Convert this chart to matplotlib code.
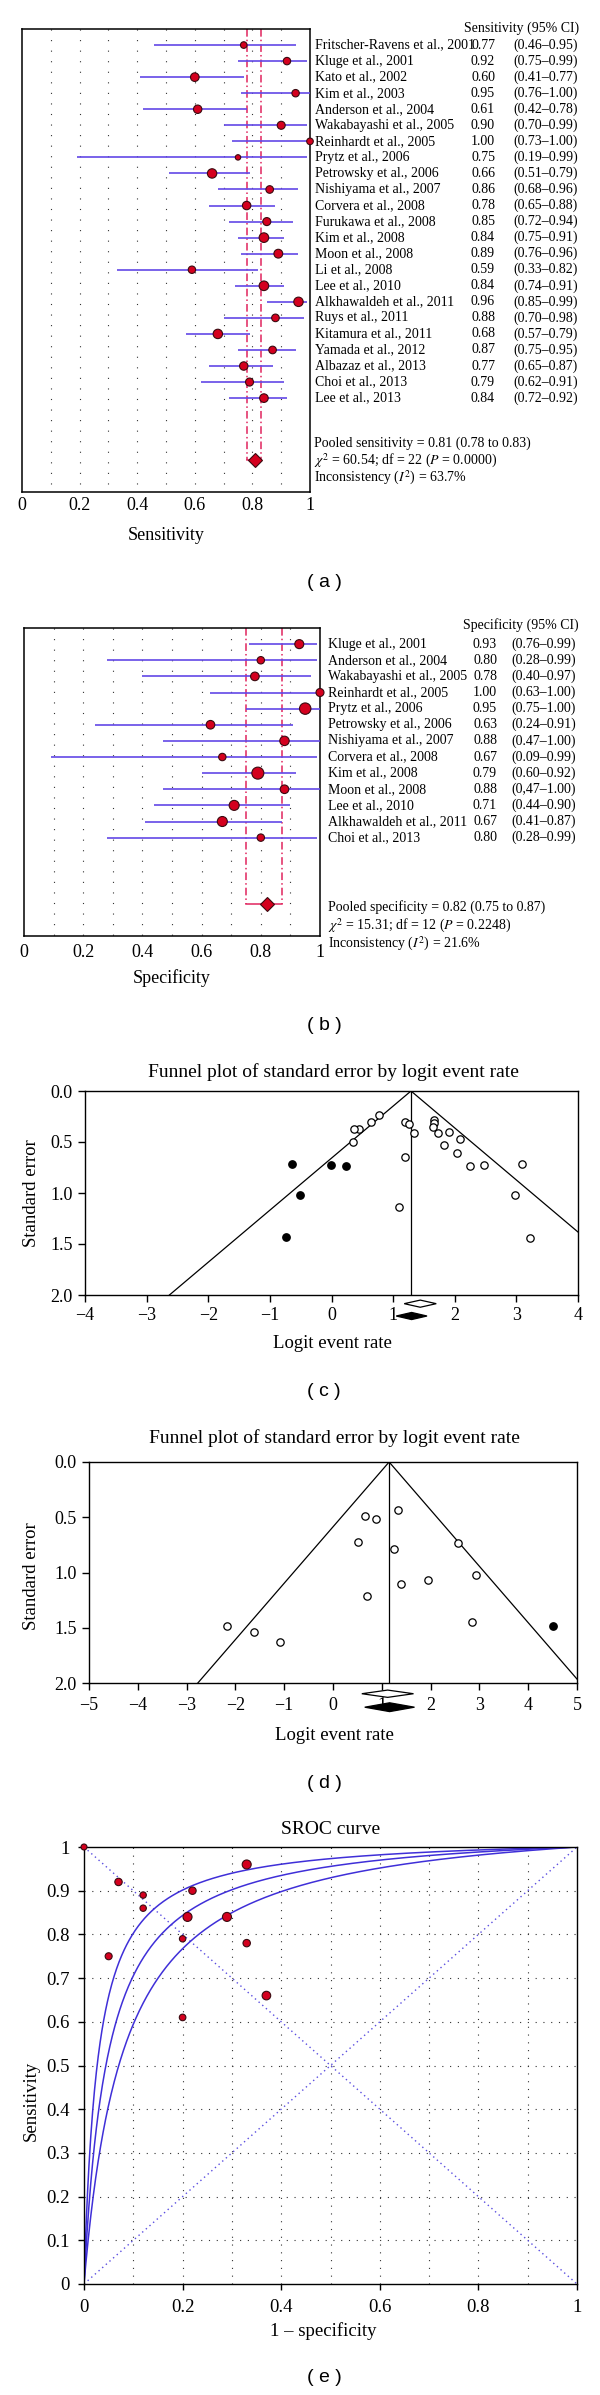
import numpy as np
import matplotlib.pyplot as plt
from matplotlib.patches import Polygon
from matplotlib.transforms import blended_transform_factory

plt.rcParams['font.family'] = ['Liberation Serif', 'DejaVu Serif']
plt.rcParams['mathtext.fontset'] = 'stix'

# ---------------- data: (a) sensitivity forest plot ----------------
sens_study = ["Fritscher-Ravens et al., 2001", "Kluge et al., 2001", "Kato et al., 2002",
              "Kim et al., 2003", "Anderson et al., 2004", "Wakabayashi et al., 2005",
              "Reinhardt et al., 2005", "Prytz et al., 2006", "Petrowsky et al., 2006",
              "Nishiyama et al., 2007", "Corvera et al., 2008", "Furukawa et al., 2008",
              "Kim et al., 2008", "Moon et al., 2008", "Li et al., 2008", "Lee et al., 2010",
              "Alkhawaldeh et al., 2011", "Ruys et al., 2011", "Kitamura et al., 2011",
              "Yamada et al., 2012", "Albazaz et al., 2013", "Choi et al., 2013", "Lee et al., 2013"]
sens_est = [0.77, 0.92, 0.60, 0.95, 0.61, 0.90, 1.00, 0.75, 0.66, 0.86, 0.78, 0.85,
            0.84, 0.89, 0.59, 0.84, 0.96, 0.88, 0.68, 0.87, 0.77, 0.79, 0.84]
sens_lo = [0.46, 0.75, 0.41, 0.76, 0.42, 0.70, 0.73, 0.19, 0.51, 0.68, 0.65, 0.72,
           0.75, 0.76, 0.33, 0.74, 0.85, 0.70, 0.57, 0.75, 0.65, 0.62, 0.72]
sens_hi = [0.95, 0.99, 0.77, 1.00, 0.78, 0.99, 1.00, 0.99, 0.79, 0.96, 0.88, 0.94,
           0.91, 0.96, 0.82, 0.91, 0.99, 0.98, 0.79, 0.95, 0.87, 0.91, 0.92]
# relative study weight, drawn as marker radius
sens_wt = [3.3, 3.7, 4.3, 3.7, 4.2, 4.0, 3.3, 2.7, 4.7, 3.8, 4.2, 4.0,
           4.8, 4.4, 3.7, 4.8, 4.7, 3.8, 4.7, 3.8, 4.2, 4.0, 4.3]
sens_pool = [0.81, 0.78, 0.83]
sens_stats = ["Pooled sensitivity = 0.81 (0.78 to 0.83)",
              r"$\chi^2$ = 60.54; df = 22 ($P$ = 0.0000)",
              r"Inconsistency ($I^2$) = 63.7%"]

# ---------------- data: (b) specificity forest plot ----------------
spec_study = ["Kluge et al., 2001", "Anderson et al., 2004", "Wakabayashi et al., 2005",
              "Reinhardt et al., 2005", "Prytz et al., 2006", "Petrowsky et al., 2006",
              "Nishiyama et al., 2007", "Corvera et al., 2008", "Kim et al., 2008",
              "Moon et al., 2008", "Lee et al., 2010", "Alkhawaldeh et al., 2011", "Choi et al., 2013"]
spec_est = [0.93, 0.80, 0.78, 1.00, 0.95, 0.63, 0.88, 0.67, 0.79, 0.88, 0.71, 0.67, 0.80]
spec_lo = [0.76, 0.28, 0.40, 0.63, 0.75, 0.24, 0.47, 0.09, 0.60, 0.47, 0.44, 0.41, 0.28]
spec_hi = [0.99, 0.99, 0.97, 1.00, 1.00, 0.91, 1.00, 0.99, 0.92, 1.00, 0.90, 0.87, 0.99]
spec_ci_label = ["(0.76–0.99)", "(0.28–0.99)", "(0.40–0.97)", "(0.63–1.00)", "(0.75–1.00)",
                 "(0.24–0.91)", "(0.47–1.00)", "(0.09–0.99)", "(0.60–0.92)", "(0,47–1.00)",
                 "(0.44–0.90)", "(0.41–0.87)", "(0.28–0.99)"]
spec_wt = [4.5, 3.7, 4.3, 4.0, 5.7, 4.3, 4.7, 3.7, 6.0, 4.3, 5.0, 5.0, 3.7]
spec_pool = [0.82, 0.75, 0.87]
spec_stats = ["Pooled specificity = 0.82 (0.75 to 0.87)",
              r"$\chi^2$ = 15.31; df = 12 ($P$ = 0.2248)",
              r"Inconsistency ($I^2$) = 21.6%"]

# ---------------- data: (c) funnel plot, sensitivity ----------------
c_open_x = [0.77, 0.64, 0.45, 0.37, 0.35, 1.20, 1.25, 1.34, 1.19, 1.10, 1.66, 1.66,
            1.64, 1.73, 1.90, 2.09, 1.83, 2.03, 2.25, 2.48, 3.09, 2.98, 3.22]
c_open_se = [0.24, 0.30, 0.37, 0.37, 0.50, 0.30, 0.32, 0.41, 0.65, 1.14, 0.28, 0.31,
             0.35, 0.41, 0.40, 0.47, 0.53, 0.61, 0.74, 0.73, 0.72, 1.02, 1.44]
c_fill_x = [-0.64, -0.01, 0.24, -0.51, -0.74]
c_fill_se = [0.72, 0.73, 0.74, 1.02, 1.43]
c_center = 1.29
c_diamond_x = [1.44, 1.30]     # observed (open), adjusted (filled)
c_diamond_hw = [0.26, 0.25]

# ---------------- data: (d) funnel plot, specificity ----------------
d_open_x = [1.33, 0.66, 0.88, 0.51, 1.25, 2.56, 2.93, 1.39, 1.95, 0.69, -2.17, -1.61, -1.09, 2.85]
d_open_se = [0.43, 0.49, 0.52, 0.72, 0.79, 0.73, 1.02, 1.10, 1.07, 1.21, 1.48, 1.54, 1.63, 1.45]
d_fill_x = [4.51]
d_fill_se = [1.48]
d_center = 1.15
d_diamond_x = [1.12, 1.16]
d_diamond_hw = [0.53, 0.51]

# ---------------- data: (e) SROC ----------------
sroc_fpr = [0.07, 0.20, 0.22, 0.00, 0.05, 0.37, 0.12, 0.33, 0.21, 0.12, 0.29, 0.33, 0.20]
sroc_tpr = [0.92, 0.61, 0.90, 1.00, 0.75, 0.66, 0.86, 0.78, 0.84, 0.89, 0.84, 0.96, 0.79]
sroc_wt = [3.7, 3.3, 3.7, 3.0, 3.5, 4.3, 3.2, 3.7, 4.5, 3.2, 4.5, 4.5, 3.2]
sroc_shift = [3.60, 3.07, 2.58]   # upper CI, SROC, lower CI (logit DOR)

RED = '#d4001e'
EDGE = '#3a0a10'
BLUE = '#6248e6'
CRIMSON = '#e0245e'
TXT = 10

W, H = 600, 2395
fig = plt.figure(figsize=(W / 100, H / 100), dpi=100)


def box(l, t, r, b):
    return fig.add_axes([l / W, 1 - b / H, (r - l) / W, (b - t) / H])


def ftext(x, y, s, **kw):
    fig.text(x / W, 1 - y / H, s, **kw)


def size(r):
    # marker radius in px -> scatter area in pt^2
    return (2 * np.asarray(r) * 0.72) ** 2


def forest(ax, names, est, lo, hi, wt, pool, diamond_row, bottom, pad):
    rows = np.arange(1, len(est) + 1)
    ax.vlines(np.linspace(0.1, 0.9, 9), 0, bottom, colors='#333333', lw=0.8,
              linestyles=[(0, (1, 8.5))], zorder=1)
    ax.vlines([pool[1], pool[2]], 0, diamond_row, colors=CRIMSON, lw=1.1,
              linestyles=[(0, (5, 2, 1, 2))], zorder=2)
    ax.plot([pool[1], pool[2]], [diamond_row, diamond_row], color=CRIMSON, lw=1.1, zorder=2)
    ax.hlines(rows, lo, hi, colors=BLUE, lw=1.2, zorder=3, clip_on=False)
    ax.scatter(est, rows, s=size(wt), c=RED, edgecolors=EDGE, linewidths=0.8,
               zorder=4, clip_on=False)
    ax.plot(pool[0], diamond_row, marker='D', ms=7.5, mfc=RED, mec=EDGE, mew=0.8, zorder=4)
    ax.set_xlim(0, 1)
    ax.set_ylim(bottom, 0)
    ax.set_yticks([])
    ax.set_xticks([0, 0.2, 0.4, 0.6, 0.8, 1])
    ax.set_xticklabels(['0', '0.2', '0.4', '0.6', '0.8', '1'])
    ax.tick_params(axis='x', length=0, pad=pad, labelsize=13)
    for s in ax.spines.values():
        s.set_linewidth(1.1)
    return rows


# ---- (a) ----
ax_a = box(22, 29, 310, 492)
rows = forest(ax_a, sens_study, sens_est, sens_lo, sens_hi, sens_wt, sens_pool, 26.85, 28.85, 3.5)
tr = blended_transform_factory(fig.transFigure, ax_a.transData)
for r, name, e, lo, hi in zip(rows, sens_study, sens_est, sens_lo, sens_hi):
    fig.text(315 / W, r, name, transform=tr, fontsize=TXT, va='center', ha='left')
    fig.text(495 / W, r, f"{e:.2f}", transform=tr, fontsize=TXT, va='center', ha='right')
    fig.text(513 / W, r, f"({lo:.2f}–{hi:.2f})", transform=tr, fontsize=TXT, va='center', ha='left')
ftext(579, 28, "Sensitivity (95% CI)", fontsize=TXT, ha='right', va='center')
for i, s in enumerate(sens_stats):
    ftext(314, 443 + 17.5 * i, s, fontsize=TXT, ha='left', va='center')
ftext(166, 535, "Sensitivity", fontsize=13, ha='center', va='center')
ftext(324, 582, "( a )", fontsize=14, ha='center', va='center', family='Liberation Sans')

# ---- (b) ----
ax_b = box(24, 628, 320, 936)
rows = forest(ax_b, spec_study, spec_est, spec_lo, spec_hi, spec_wt, spec_pool, 17.1, 19.1, 5.5)
tr = blended_transform_factory(fig.transFigure, ax_b.transData)
for r, name, e, ci in zip(rows, spec_study, spec_est, spec_ci_label):
    fig.text(328 / W, r, name, transform=tr, fontsize=TXT, va='center', ha='left')
    fig.text(497 / W, r, f"{e:.2f}", transform=tr, fontsize=TXT, va='center', ha='right')
    fig.text(511 / W, r, ci, transform=tr, fontsize=TXT, va='center', ha='left')
ftext(579, 625, "Specificity (95% CI)", fontsize=TXT, ha='right', va='center')
for i, s in enumerate(spec_stats):
    ftext(328, 907 + 18.5 * i, s, fontsize=TXT, ha='left', va='center')
ftext(172, 978, "Specificity", fontsize=13, ha='center', va='center')
ftext(324, 1025, "( b )", fontsize=14, ha='center', va='center', family='Liberation Sans')


def funnel(ax, ox, ose, fx, fse, center, dx, dhw, dy, dhh, xlim, pad):
    se = np.array([0.0, 2.0])
    ax.plot(center - 1.96 * se, se, color='k', lw=0.9)
    ax.plot(center + 1.96 * se, se, color='k', lw=0.9)
    ax.plot([center, center], [0, 2.0], color='k', lw=0.9)
    ax.scatter(ox, ose, s=28, facecolors='white', edgecolors='k', linewidths=0.9, zorder=3)
    ax.scatter(fx, fse, s=28, c='k', zorder=3)
    for x, hw, y, hh, fc in zip(dx, dhw, dy, dhh, ['white', 'black']):
        ax.add_patch(Polygon([(x - hw, y), (x, y - hh), (x + hw, y), (x, y + hh)],
                             closed=True, fc=fc, ec='k', lw=0.9, clip_on=False, zorder=3))
    ax.set_xlim(*xlim)
    ax.set_ylim(2.0, 0)
    ax.set_xticks(np.arange(xlim[0], xlim[1] + 1))
    ax.set_yticks([0, 0.5, 1.0, 1.5, 2.0])
    ax.set_yticklabels(['0.0', '0.5', '1.0', '1.5', '2.0'])
    ax.tick_params(axis='x', length=5, width=1, pad=pad, labelsize=13)
    ax.tick_params(axis='y', length=5, width=1, pad=4, labelsize=13)
    for s in ax.spines.values():
        s.set_linewidth(1.0)


# ---- (c) ----
ax_c = box(85, 1091, 578, 1295)
funnel(ax_c, c_open_x, c_open_se, c_fill_x, c_fill_se, c_center, c_diamond_x, c_diamond_hw,
       [2.085, 2.206], [0.035, 0.035], (-4, 4), 3.5)
ftext(333, 1072, "Funnel plot of standard error by logit event rate", fontsize=14, ha='center', va='center')
ftext(332, 1343, "Logit event rate", fontsize=13.5, ha='center', va='center')
ftext(31, 1193, "Standard error", fontsize=13.5, ha='center', va='center', rotation=90)
ftext(324, 1392, "( c )", fontsize=14, ha='center', va='center', family='Liberation Sans')

# ---- (d) ----
ax_d = box(89, 1462, 577, 1683)
funnel(ax_d, d_open_x, d_open_se, d_fill_x, d_fill_se, d_center, d_diamond_x, d_diamond_hw,
       [2.097, 2.219], [0.033, 0.04], (-5, 5), 5)
ftext(334, 1438, "Funnel plot of standard error by logit event rate", fontsize=14, ha='center', va='center')
ftext(334, 1735, "Logit event rate", fontsize=13.5, ha='center', va='center')
ftext(31, 1576, "Standard error", fontsize=13.5, ha='center', va='center', rotation=90)
ftext(324, 1783, "( d )", fontsize=14, ha='center', va='center', family='Liberation Sans')

# ---- (e) SROC ----
ax_e = box(84, 1847, 577, 2284)
grid = np.linspace(0.1, 0.9, 9)
ax_e.vlines(grid, 0, 1, colors='#333333', lw=0.8, linestyles=[(0, (1, 6))], zorder=1)
ax_e.hlines(grid, 0, 1, colors='#333333', lw=0.8, linestyles=[(0, (1, 6))], zorder=1)
ax_e.plot([0, 1], [0, 1], color='#5a4de0', lw=1.0, ls=(0, (1, 2.5)))
ax_e.plot([0, 1], [1, 0], color='#5a4de0', lw=1.0, ls=(0, (1, 2.5)))
fpr = np.linspace(1e-5, 1 - 1e-9, 800)
for a in sroc_shift:
    tpr = 1 / (1 + np.exp(-(a + np.log(fpr / (1 - fpr)))))
    ax_e.plot(np.r_[0, fpr, 1], np.r_[0, tpr, 1], color='#3f2fd8', lw=1.1, zorder=2)
ax_e.scatter(sroc_fpr, sroc_tpr, s=size(sroc_wt), c=RED, edgecolors=EDGE, linewidths=0.8,
             zorder=4, clip_on=False)
ax_e.set_xlim(0, 1)
ax_e.set_ylim(0, 1)
ax_e.set_xticks([0, 0.2, 0.4, 0.6, 0.8, 1])
ax_e.set_xticklabels(['0', '0.2', '0.4', '0.6', '0.8', '1'])
ax_e.set_yticks(np.linspace(0, 1, 11))
ax_e.set_yticklabels(['0', '0.1', '0.2', '0.3', '0.4', '0.5', '0.6', '0.7', '0.8', '0.9', '1'])
ax_e.tick_params(axis='both', length=4, width=1, labelsize=13.5)
ax_e.tick_params(axis='x', pad=7)
ax_e.tick_params(axis='y', pad=6)
for s in ax_e.spines.values():
    s.set_linewidth(1.0)
ftext(331, 1830, "SROC curve", fontsize=14, ha='center', va='center')
ftext(323, 2331, "1 – specificity", fontsize=13.5, ha='center', va='center')
ftext(31, 2101, "Sensitivity", fontsize=13.5, ha='center', va='center', rotation=90)
ftext(324, 2378, "( e )", fontsize=14, ha='center', va='center', family='Liberation Sans')

fig.savefig('out.png', dpi=100)
